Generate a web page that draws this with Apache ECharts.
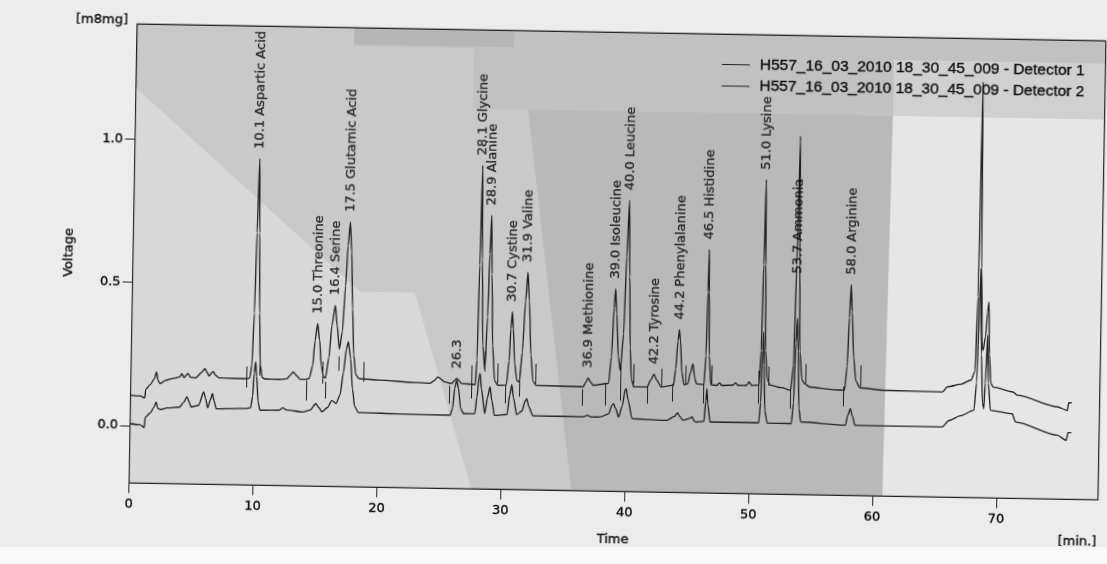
<!DOCTYPE html>
<html>
<head>
<meta charset="utf-8">
<title>Amino acid chromatogram</title>
<script src="https://cdn.jsdelivr.net/npm/echarts@6/dist/echarts.min.js"></script>
<style>
  html, body {
    margin: 0;
    padding: 0;
    width: 1107px;
    height: 564px;
    overflow: hidden;
    background: linear-gradient(to bottom, #ececec 0, #ececec 547px, #f8f8f8 547px);
  }
  /* the printed sheet sits slightly askew */
  #chart {
    width: 1107px;
    height: 564px;
    transform: rotate(1deg);
    transform-origin: 50% 50%;
  }
</style>
</head>
<body>
<div id="chart"></div>
<script>
// ---- run data -------------------------------------------------------------
const seriesNames = [
  'H557_16_03_2010 18_30_45_009 - Detector 1',
  'H557_16_03_2010 18_30_45_009 - Detector 2'
];

const timeTicks = [0, 10, 20, 30, 40, 50, 60, 70];
const voltageTicks = [0, 0.5, 1.0];

// identified peaks (retention time in min, component)
const peakTimes = [10.1, 15.0, 16.4, 17.5, 26.3, 28.1, 28.9, 30.7, 31.9, 36.9,
                   39.0, 40.0, 42.2, 44.2, 46.5, 51.0, 53.7, 58.0];
const peakNames = ['Aspartic Acid', 'Threonine', 'Serine', 'Glutamic Acid', '',
                   'Glycine', 'Alanine', 'Cystine', 'Valine', 'Methionine',
                   'Isoleucine', 'Leucine', 'Tyrosine', 'Phenylalanine', 'Histidine',
                   'Lysine', 'Ammonia', 'Arginine'];
// the ammonia annotation is printed across its own peak
const labelLevelOverride = { '53.7': 0.535 };

// detector 1 trace [time min, voltage]
const detector1 = [
  [0, 0.106], [0.8, 0.104], [1.15, 0.098], [1.22, 0.128], [1.6, 0.145], [1.9, 0.165],
  [2.07, 0.189], [2.2, 0.16], [2.36, 0.148], [2.8, 0.16], [3.5, 0.168], [3.96, 0.173],
  [4.1, 0.184], [4.3, 0.171], [4.6, 0.185], [4.85, 0.172], [5.25, 0.171], [5.7, 0.19],
  [5.97, 0.203], [6.15, 0.19], [6.3, 0.178], [6.62, 0.194], [6.85, 0.18], [7.1, 0.172],
  [8.5, 0.171], [9.35, 0.171], [9.6, 0.174], [9.75, 0.22], [9.88, 0.4], [9.98, 0.68],
  [10.1, 0.938], [10.2, 0.68], [10.3, 0.4], [10.42, 0.22], [10.6, 0.176], [10.8, 0.171],
  [12.0, 0.17], [12.6, 0.173], [12.85, 0.185], [13.1, 0.197], [13.35, 0.185], [13.66, 0.172],
  [14.1, 0.172], [14.4, 0.176], [14.65, 0.22], [14.82, 0.31], [15.0, 0.367], [15.18, 0.31],
  [15.35, 0.22], [15.55, 0.182], [15.7, 0.178], [15.95, 0.25], [16.15, 0.36], [16.4, 0.432],
  [16.58, 0.36], [16.78, 0.28], [17.0, 0.34], [17.2, 0.5], [17.35, 0.64], [17.5, 0.723],
  [17.65, 0.62], [17.8, 0.42], [17.95, 0.26], [18.15, 0.19], [18.4, 0.178], [20.0, 0.174],
  [23.0, 0.168], [24.15, 0.166], [24.5, 0.176], [24.8, 0.189], [25.05, 0.18], [25.3, 0.172],
  [25.9, 0.166], [26.1, 0.176], [26.3, 0.184], [26.5, 0.176], [26.7, 0.167], [27.8, 0.164],
  [27.9, 0.25], [28.0, 0.58], [28.1, 0.929], [28.2, 0.6], [28.35, 0.3], [28.55, 0.215],
  [28.7, 0.4], [28.8, 0.62], [28.9, 0.755], [29.0, 0.55], [29.15, 0.3], [29.35, 0.18],
  [29.6, 0.163], [30.3, 0.164], [30.5, 0.25], [30.6, 0.36], [30.7, 0.42], [30.8, 0.36],
  [30.95, 0.24], [31.15, 0.18], [31.35, 0.176], [31.55, 0.28], [31.75, 0.46], [31.9, 0.56],
  [32.05, 0.46], [32.25, 0.27], [32.45, 0.18], [32.7, 0.165], [36.5, 0.163], [36.7, 0.178],
  [36.9, 0.194], [37.1, 0.18], [37.3, 0.169], [38.55, 0.176], [38.75, 0.27], [38.9, 0.44],
  [39.0, 0.507], [39.12, 0.42], [39.3, 0.27], [39.48, 0.223], [39.7, 0.35], [39.85, 0.62],
  [40.0, 0.816], [40.12, 0.55], [40.25, 0.3], [40.4, 0.19], [40.6, 0.166], [41.66, 0.166],
  [41.95, 0.19], [42.2, 0.211], [42.45, 0.19], [42.8, 0.167], [43.8, 0.174], [43.95, 0.23],
  [44.1, 0.33], [44.2, 0.368], [44.3, 0.33], [44.45, 0.22], [44.65, 0.176], [44.95, 0.18],
  [45.15, 0.22], [45.34, 0.25], [45.5, 0.2], [45.65, 0.18], [46.25, 0.178], [46.38, 0.28],
  [46.45, 0.5], [46.5, 0.649], [46.56, 0.5], [46.64, 0.28], [46.8, 0.178], [47.3, 0.176],
  [47.5, 0.185], [47.7, 0.176], [48.6, 0.178], [48.8, 0.186], [49.0, 0.177], [49.7, 0.178],
  [49.9, 0.19], [50.1, 0.178], [50.7, 0.18], [50.82, 0.3], [50.92, 0.6], [51.0, 0.896],
  [51.08, 0.6], [51.18, 0.3], [51.35, 0.2], [51.6, 0.18], [52.5, 0.172], [53.25, 0.163],
  [53.45, 0.25], [53.58, 0.6], [53.7, 1.05], [53.82, 0.6], [53.95, 0.3], [54.15, 0.2],
  [54.4, 0.186], [54.8, 0.176], [56.7, 0.168], [57.6, 0.167], [57.78, 0.25], [57.9, 0.42],
  [58.0, 0.535], [58.12, 0.44], [58.3, 0.28], [58.5, 0.2], [58.85, 0.176], [60.8, 0.169],
  [65.5, 0.167], [65.9, 0.185], [67.0, 0.195], [67.8, 0.21], [68.1, 0.24], [68.25, 0.5],
  [68.35, 1.25], [68.5, 0.6], [68.65, 0.33], [68.72, 0.314], [68.9, 0.36], [69.05, 0.45],
  [69.14, 0.483], [69.25, 0.3], [69.4, 0.2], [69.6, 0.187], [71.2, 0.171], [71.55, 0.16],
  [74.8, 0.122], [75.6, 0.11], [75.72, 0.137], [75.95, 0.137]
];

// detector 2 trace [time min, voltage]
const detector2 = [
  [0, 0.007], [0.8, 0.004], [1.15, -0.006], [1.22, 0.03], [1.6, 0.045], [1.9, 0.065],
  [2.07, 0.084], [2.22, 0.062], [2.4, 0.058], [3.0, 0.064], [3.97, 0.068], [4.3, 0.085],
  [4.55, 0.104], [4.75, 0.085], [4.9, 0.069], [5.5, 0.075], [5.9, 0.122], [6.05, 0.1],
  [6.24, 0.067], [6.45, 0.095], [6.6, 0.117], [6.75, 0.09], [6.93, 0.064], [8.5, 0.066],
  [9.35, 0.067], [9.7, 0.07], [9.85, 0.11], [9.95, 0.19], [10.05, 0.23], [10.15, 0.18],
  [10.3, 0.09], [10.45, 0.062], [12.0, 0.063], [12.3, 0.071], [12.6, 0.064], [13.95, 0.058],
  [14.5, 0.065], [14.96, 0.088], [15.2, 0.075], [15.45, 0.06], [15.9, 0.075], [16.24, 0.1],
  [16.6, 0.09], [16.9, 0.12], [17.15, 0.2], [17.35, 0.28], [17.5, 0.305], [17.7, 0.25],
  [17.9, 0.14], [18.1, 0.08], [18.4, 0.06], [22.0, 0.057], [25.8, 0.056], [26.0, 0.08],
  [26.15, 0.15], [26.3, 0.178], [26.45, 0.15], [26.65, 0.08], [26.9, 0.062], [27.8, 0.063],
  [27.95, 0.12], [28.1, 0.19], [28.18, 0.203], [28.3, 0.15], [28.6, 0.064], [28.8, 0.12],
  [29.0, 0.157], [29.15, 0.11], [29.39, 0.058], [30.4, 0.062], [30.6, 0.13], [30.75, 0.166],
  [30.9, 0.12], [31.18, 0.062], [31.6, 0.075], [31.85, 0.11], [31.98, 0.118], [32.15, 0.09],
  [32.5, 0.059], [36.55, 0.058], [36.9, 0.064], [37.2, 0.058], [37.93, 0.059], [38.6, 0.07],
  [38.85, 0.1], [38.98, 0.106], [39.15, 0.09], [39.4, 0.06], [39.7, 0.1], [39.9, 0.155],
  [39.99, 0.159], [40.15, 0.12], [40.5, 0.055], [43.3, 0.051], [43.9, 0.065], [44.16, 0.078],
  [44.35, 0.065], [44.6, 0.053], [45.2, 0.06], [45.35, 0.065], [45.5, 0.05], [45.7, 0.047],
  [46.3, 0.05], [46.42, 0.12], [46.5, 0.164], [46.58, 0.11], [46.8, 0.048], [50.72, 0.048],
  [50.85, 0.12], [50.95, 0.3], [51.0, 0.365], [51.08, 0.25], [51.2, 0.09], [51.4, 0.048],
  [53.35, 0.047], [53.5, 0.12], [53.62, 0.33], [53.72, 0.414], [53.82, 0.3], [53.95, 0.1],
  [54.1, 0.054], [57.72, 0.045], [57.9, 0.08], [58.1, 0.103], [58.25, 0.08], [58.5, 0.045],
  [65.53, 0.045], [66.07, 0.068], [67.0, 0.085], [68.07, 0.105], [68.25, 0.2], [68.45, 0.6],
  [68.6, 0.3], [68.75, 0.13], [68.86, 0.111], [68.95, 0.2], [69.08, 0.367], [69.2, 0.2],
  [69.4, 0.106], [71.16, 0.095], [71.44, 0.067], [74.83, 0.023], [75.56, 0.006],
  [75.7, 0.033], [75.95, 0.033]
];

// integration event ticks on the detector 1 trace [time, from, to]
const eventTicks = [
  [9.35, 0.14, 0.213], [10.4, 0.182, 0.267], [14.2, 0.098, 0.168], [15.5, 0.158, 0.235],
  [15.7, 0.106, 0.165], [16.72, 0.204, 0.254], [18.76, 0.167, 0.236], [25.73, 0.096, 0.159],
  [27.5, 0.115, 0.23], [28.56, 0.21, 0.28], [29.6, 0.169, 0.239], [30.2, 0.1, 0.162],
  [31.36, 0.125, 0.212], [32.62, 0.171, 0.241], [36.42, 0.097, 0.155], [38.29, 0.099, 0.175],
  [39.49, 0.117, 0.256], [40.55, 0.177, 0.246], [41.67, 0.108, 0.171], [42.85, 0.168, 0.231],
  [43.68, 0.117, 0.179], [44.74, 0.18, 0.243], [46.23, 0.112, 0.181], [46.83, 0.181, 0.245],
  [50.66, 0.115, 0.23], [51.45, 0.178, 0.245], [53.24, 0.099, 0.176], [54.42, 0.187, 0.256],
  [57.54, 0.11, 0.18], [58.86, 0.18, 0.254]
];

// ---- drawing ----------------------------------------------------------------
const chart = echarts.init(document.getElementById('chart'), null, { renderer: 'canvas' });

const GRID = { left: 132.6, top: 31.4, width: 969, height: 459 };
const gR = GRID.left + GRID.width;
const gB = GRID.top + GRID.height;
const INK = '#222';
const TEXT = '#0c0c0c';
const FONT = 'DejaVu Sans';
// printed type comes out a little heavy
const heavy = { textBorderColor: TEXT, textBorderWidth: 0.35 };

const apexOf = t => {
  const hit = detector1.find(p => Math.abs(p[0] - t) < 1e-9);
  return hit ? hit[1] : 0;
};

const peakLabelData = peakTimes.map((t, i) => {
  const key = t.toFixed(1);
  const level = key in labelLevelOverride ? labelLevelOverride[key] : apexOf(t);
  return {
    value: [t, level],
    name: peakNames[i] ? key + ' ' + peakNames[i] : key
  };
});

// paper shading behind the plot
const shade = (points, fill) => ({
  type: 'polygon', silent: true, z: 1,
  shape: { points },
  style: { fill }
});

const option = {
  backgroundColor: 'transparent',
  animation: false,
  textStyle: { fontFamily: FONT, color: TEXT },
  grid: {
    left: GRID.left, top: GRID.top, width: GRID.width, height: GRID.height,
    show: true, backgroundColor: '#c9c9c9', borderColor: INK, borderWidth: 1
  },
  legend: {
    data: seriesNames,
    orient: 'vertical',
    left: 718,
    top: 52.5,
    padding: 0,
    itemWidth: 28,
    itemHeight: 14,
    itemGap: 3.5,
    icon: 'path://M0,0 L28,0 L28,1 L0,1 Z',
    itemStyle: { color: INK },
    textStyle: Object.assign({
      fontFamily: 'Liberation Sans', fontSize: 15.5, color: TEXT,
      lineHeight: 18, padding: [0, 0, 0, 5]
    }, heavy)
  },
  xAxis: {
    type: 'value',
    min: 0,
    max: 78.2,
    name: 'Time',
    nameLocation: 'middle',
    nameGap: 42,
    nameTextStyle: Object.assign({ fontFamily: FONT, fontSize: 13, color: TEXT }, heavy),
    axisLine: { show: true, onZero: false, lineStyle: { color: INK, width: 1 } },
    axisTick: { show: true, customValues: timeTicks, length: 10, lineStyle: { color: INK } },
    axisLabel: Object.assign({
      customValues: timeTicks, margin: 15,
      fontFamily: FONT, fontSize: 13, color: TEXT
    }, heavy),
    splitLine: { show: false }
  },
  yAxis: {
    type: 'value',
    min: -0.2,
    max: 1.4,
    name: 'Voltage',
    nameLocation: 'middle',
    nameRotate: 90,
    nameGap: 57,
    nameTextStyle: Object.assign({ fontFamily: FONT, fontSize: 13, color: TEXT }, heavy),
    axisLine: { show: true, onZero: false, lineStyle: { color: INK, width: 1 } },
    axisTick: { show: true, customValues: voltageTicks, length: 10, lineStyle: { color: INK } },
    axisLabel: Object.assign({
      customValues: voltageTicks, margin: 12,
      fontFamily: FONT, fontSize: 13, color: TEXT,
      formatter: v => v.toFixed(1)
    }, heavy),
    splitLine: { show: false }
  },
  graphic: [
    // lighter sheet over the lower left
    shade([[GRID.left, 95], [360, 295], [415, 295], [475, gB], [GRID.left, gB]], '#d8d8d8'),
    // band along the top edge
    shade([[350, GRID.top], [gR, GRID.top], [gR, 110], [470, 110], [470, 50], [350, 50]], '#c1c1c1'),
    shade([[350, GRID.top], [510, GRID.top], [510, 48], [350, 48]], '#b6b6b6'),
    shade([[890, 54], [gR, 54], [gR, 110], [890, 110]], '#d0d0d0'),
    // darker middle sheet and the bright right-hand part
    shade([[525, 110], [890, 110], [886, gB], [575, gB]], '#b9b9b9'),
    shade([[890, 110], [gR, 110], [gR, gB], [886, gB]], '#e6e6e6'),
    {
      type: 'rect', silent: true, z: 10,
      shape: { x: GRID.left, y: GRID.top, width: GRID.width, height: GRID.height },
      style: { fill: 'none', stroke: INK, lineWidth: 1.1 }
    },
    {
      type: 'text', silent: true, z: 10, x: 97.5, y: 27.9,
      style: Object.assign({
        text: '[m8mg]', fontFamily: FONT, fontSize: 13, fill: TEXT,
        align: 'center', verticalAlign: 'middle'
      }, { stroke: TEXT, lineWidth: 0.35 })
    },
    {
      type: 'text', silent: true, z: 10, x: 1081.4, y: 532.9,
      style: Object.assign({
        text: '[min.]', fontFamily: FONT, fontSize: 13, fill: TEXT,
        align: 'center', verticalAlign: 'middle'
      }, { stroke: TEXT, lineWidth: 0.35 })
    }
  ],
  series: [
    {
      name: seriesNames[0],
      type: 'line',
      data: detector1,
      symbol: 'none',
      smooth: 0.25,
      smoothMonotone: 'x',
      lineStyle: { color: INK, width: 1.35 },
      itemStyle: { color: INK },
      z: 3,
      markLine: {
        silent: true,
        symbol: 'none',
        label: { show: false },
        lineStyle: { color: INK, width: 1, type: 'solid' },
        data: eventTicks.map(([t, a, b]) => [{ coord: [t, a] }, { coord: [t, b] }])
      }
    },
    {
      name: seriesNames[1],
      type: 'line',
      data: detector2,
      symbol: 'none',
      smooth: 0.25,
      smoothMonotone: 'x',
      lineStyle: { color: INK, width: 1.35 },
      itemStyle: { color: INK },
      z: 3
    },
    {
      name: 'peaks',
      type: 'scatter',
      data: peakLabelData,
      symbolSize: 0,
      silent: true,
      z: 4,
      label: Object.assign({
        show: true,
        position: 'top',
        distance: 10,
        rotate: 90,
        align: 'left',
        verticalAlign: 'middle',
        formatter: p => p.name,
        fontFamily: FONT,
        fontSize: 13,
        color: TEXT
      }, heavy)
    }
  ]
};

chart.setOption(option);
</script>
</body>
</html>
